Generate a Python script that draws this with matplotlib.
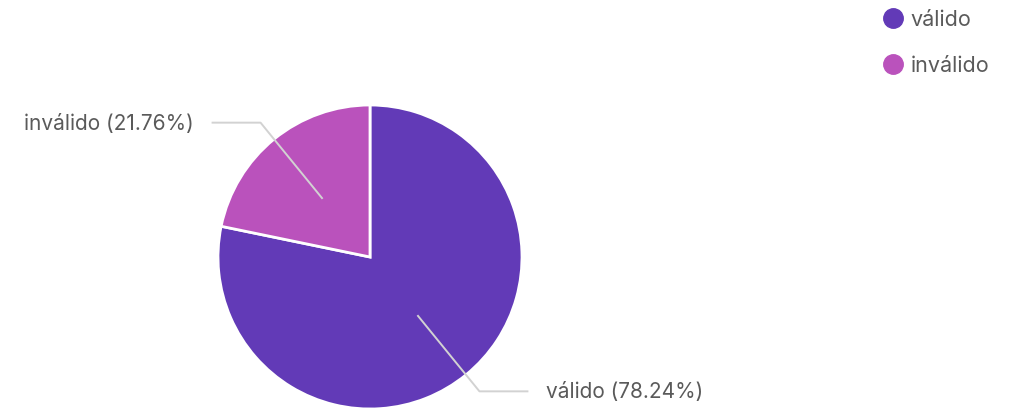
import numpy as np
import matplotlib.pyplot as plt
from matplotlib.lines import Line2D

plt.rcParams['font.family'] = ['Inter', 'DejaVu Sans']

labels = ['válido', 'inválido']
values = [78.24, 21.76]
colors = ['#623AB7', '#BA52BC']

W, H = 1013, 410
fig = plt.figure(figsize=(W / 100, H / 100), dpi=100)
ax = fig.add_axes([0, 0, 1, 1])

cx, cy, r = 370, H - 258, 152
wedges, _ = ax.pie(values, colors=colors, startangle=90, counterclock=False,
                   center=(cx, cy), radius=r,
                   wedgeprops=dict(edgecolor='white', linewidth=2))

for w, lab, v in zip(wedges, labels, values):
    ang = np.deg2rad((w.theta1 + w.theta2) / 2)
    x0, y0 = cx + 0.5 * r * np.cos(ang), cy + 0.5 * r * np.sin(ang)
    x1, y1 = cx + 1.14 * r * np.cos(ang), cy + 1.14 * r * np.sin(ang)
    side = 1 if np.cos(ang) > 0 else -1
    x2 = x1 + side * 48
    ax.plot([x0, x1, x2], [y0, y1, y1], color='#d2d2d2', lw=1.4, zorder=3)
    ax.text(x2 + side * 19, y1, f'{lab} ({v:.2f}%)', ha='left' if side > 0 else 'right',
            va='center', fontsize=15, color='#5a5a5a')

ax.set_xlim(0, W)
ax.set_ylim(0, H)
ax.set_aspect('equal')
ax.axis('off')

handles = [Line2D([], [], marker='o', ls='none', markersize=14, markerfacecolor=c,
                  markeredgecolor=c) for c in colors]
fig.legend(handles, labels, loc='upper left', bbox_to_anchor=(878 / W, 1 - 6 / H),
           frameon=False, fontsize=15.5, labelcolor='#5a5a5a', handletextpad=0.3,
           labelspacing=1.2, handlelength=1.0, borderaxespad=0, borderpad=0.2)

fig.savefig('out.png', dpi=100)
